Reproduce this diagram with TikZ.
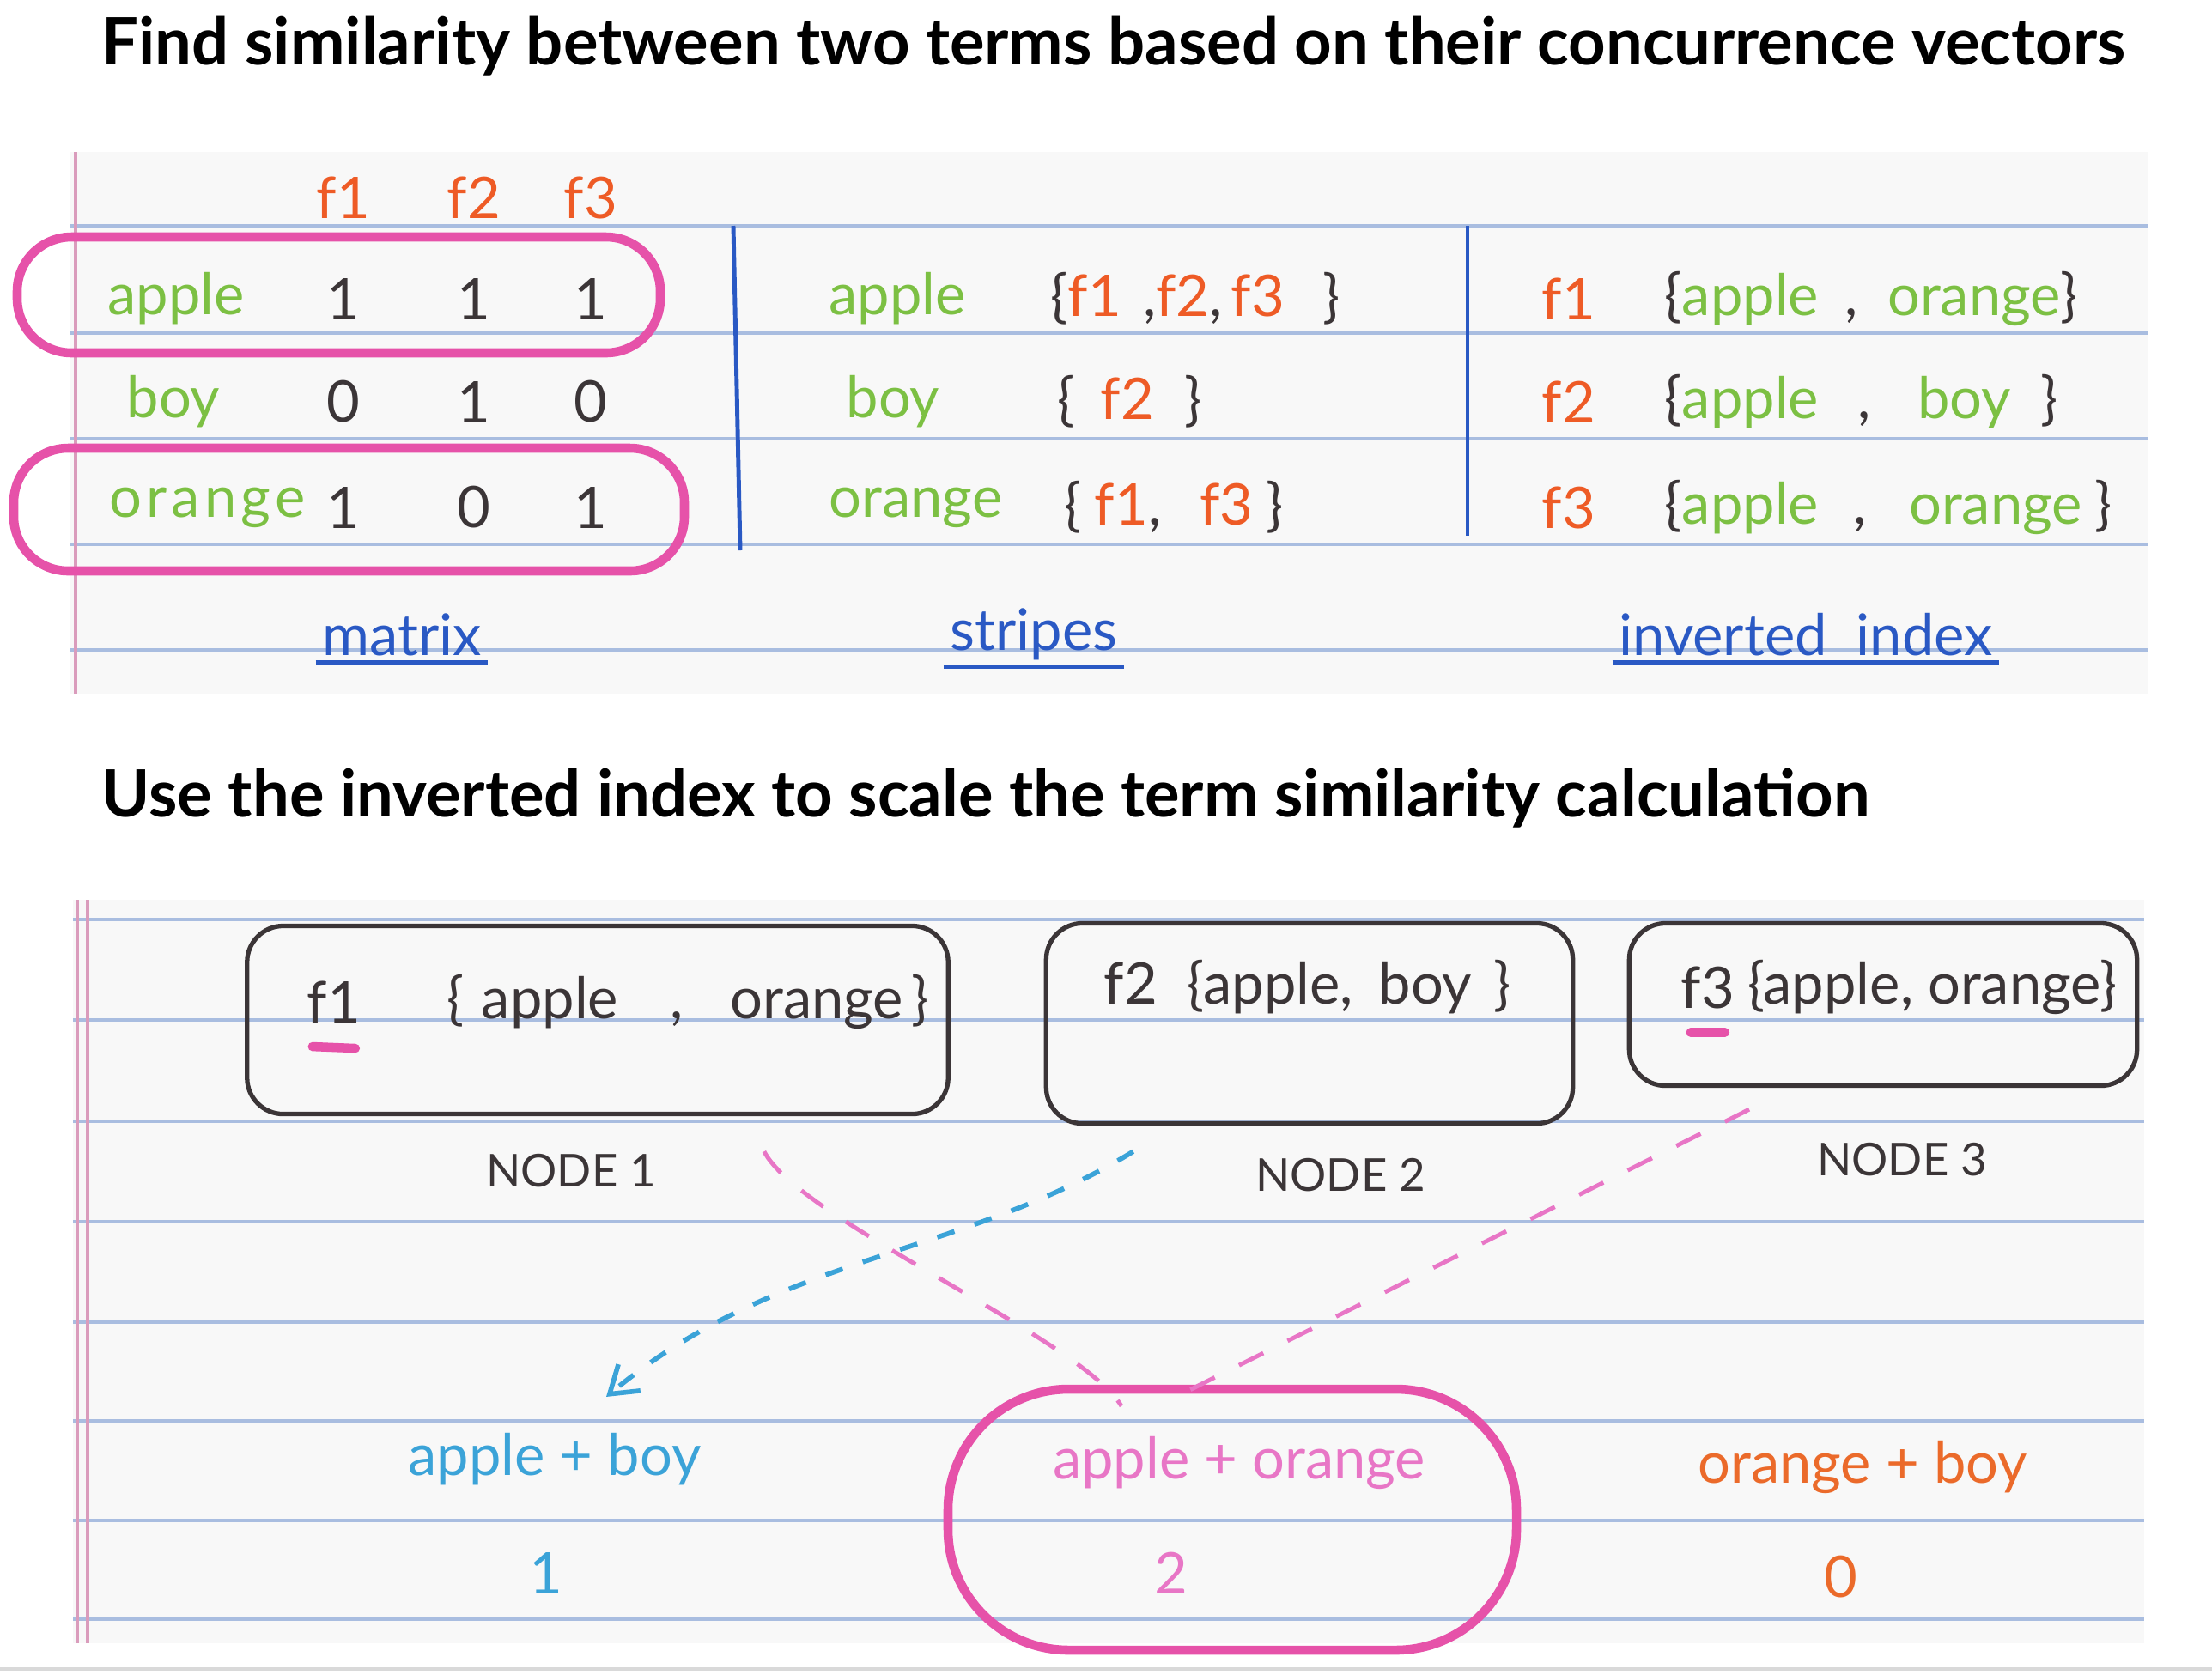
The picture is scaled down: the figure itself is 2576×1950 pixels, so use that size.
\documentclass[tikz,border=0pt]{standalone}
\usepackage{fontspec}
\setmainfont{Lato}
\usepackage{tikz}
\usetikzlibrary{arrows.meta,positioning,fit,calc}
\definecolor{ink}{HTML}{3B3537}
\definecolor{ruled}{HTML}{A9BDE0}
\definecolor{margin}{HTML}{DA9CBC}
\definecolor{paper}{HTML}{F8F8F8}
\definecolor{leaf}{HTML}{7CC043}
\definecolor{featred}{HTML}{EE5B26}
\definecolor{pen}{HTML}{2A59C4}
\definecolor{hilite}{HTML}{E652A9}
\definecolor{sky}{HTML}{3BA3D8}
\definecolor{rose}{HTML}{E876C6}
\definecolor{tangerine}{HTML}{EB6A2A}
\newcommand{\fe}[1]{\textcolor{featred}{#1}}
\newcommand{\tm}[1]{\textcolor{leaf}{#1}}
\newcommand{\gap}[1]{\hspace{#1cm}}
\tikzset{
  title/.style  ={anchor=west,inner sep=0pt,font=\fontsize{21.6}{26}\selectfont\bfseries,text=black},
  hand/.style   ={inner sep=2pt,font=\fontsize{19}{22}\selectfont,text=ink},
  term/.style   ={hand,anchor=west,text=leaf},
  featlbl/.style={hand,text=featred},
  caption/.style={hand,text=pen},
  nodebox/.style={draw=ink,line width=1.5pt,rounded corners=12pt},
  nodelbl/.style={hand,font=\fontsize{15}{18}\selectfont},
  hlring/.style ={draw=hilite,line width=3pt,rounded corners=18pt,inner sep=0pt},
  ruleline/.style={draw=ruled,line width=1.1pt},
  marginline/.style={draw=margin,line width=0.9pt},
  sepline/.style={draw=pen,line width=1.4pt},
  underline/.style={draw=pen,line width=1.3pt},
  pinkflow/.style={draw=rose,line width=1.4pt,dash pattern=on 9pt off 9pt},
  skyflow/.style={-{Straight Barb[length=3mm,width=4mm]},draw=sky,line width=1.6pt,
                  dash pattern=on 6pt off 7pt},
  penmark/.style={draw=hilite,line width=3pt,line cap=round}
}
\begin{document}
\begin{tikzpicture}[x=0.01cm,y=-0.01cm]
  \useasboundingbox[fill=white] (0,0) rectangle (2576,1950);
  \node[title] (t1) at (118,54) {Find similarity between two terms based on their concurrence vectors};
  \node[title] (t2) at (118,930) {Use the inverted index to scale the term similarity calculation};

  % top sheet
  \fill[paper] (82,177) rectangle (2502,808);
  \foreach \y in {263,388,511,634,757} \draw[ruleline] (82,\y) -- (2502,\y);
  \draw[marginline] (88,177) -- (88,808);

  % matrix
  \foreach \x [count=\i] in {400,552,688} \node[featlbl] (h\i) at (\x,230) {f\i};
  \node[term] (ra) at (118,348) {apple};
  \node[term] (rb) at (140,468) {boy};
  \node[term] (ro) at (120,591) {o\gap{0.05}r\gap{0.05}a\gap{0.05}n\gap{0.05}g\gap{0.05}e};
  \foreach \x/\v [count=\i] in {400/1,552/1,688/1} \node[hand] (va\i) at (\x,348) {\v};
  \foreach \x/\v [count=\i] in {400/0,552/1,688/0} \node[hand] (vb\i) at (\x,468) {\v};
  \foreach \x/\v [count=\i] in {400/1,552/0,688/1} \node[hand] (vo\i) at (\x,591) {\v};
  \node[hlring,fit={(20,276) (769,411)}] (hla) {};
  \node[hlring,fit={(16,522) (797,665)}] (hlo) {};
  \node[caption] (cm) at (468,739) {matrix};
  \draw[underline] (cm.south west) -- (cm.south east);
  \draw[sepline] (854,263) -- (862,641);

  % stripes
  \node[term] (sa) at (958,348) {apple};
  \node[hand,anchor=west] (sfa) at (1216,348) {\{\fe{f1}\gap{0.25},\fe{f2},\gap{0.1}\fe{f3}\gap{0.45}\}};
  \node[term] (sb) at (978,468) {boy};
  \node[hand,anchor=west] (sfb) at (1224,468) {\{\gap{0.3}\fe{f2}\gap{0.35}\}};
  \node[term] (so) at (958,591) {orange};
  \node[hand,anchor=west] (sfo) at (1232,591) {\{\gap{0.15}\fe{f1},\gap{0.45}\fe{f3}\gap{0.15}\}};
  \node[caption] (cs) at (1204,739) {stripes};
  \draw[underline] (cs.south west) -- (cs.south east);
  \draw[sepline] (1709,263) -- (1709,624);

  % inverted index
  \node[featlbl,anchor=west] (ia) at (1788,348) {f1};
  \node[hand,anchor=west] (iaset) at (1931,348) {\{\tm{apple}\gap{0.3},\gap{0.35}\tm{orange}\}};
  \node[featlbl,anchor=west] (ib) at (1788,468) {f2};
  \node[hand,anchor=west] (ibset) at (1931,468) {\{\tm{apple}\gap{0.45},\gap{0.55}\tm{boy}\gap{0.35}\}};
  \node[featlbl,anchor=west] (ic) at (1788,591) {f3};
  \node[hand,anchor=west] (icset) at (1931,591) {\{\tm{apple}\gap{0.4},\gap{0.5}\tm{orange}\gap{0.15}\}};
  \node[caption] (ci) at (2103,739) {inverted\ \ index};
  \draw[underline] (ci.south west) -- (ci.south east);

  % bottom sheet
  \fill[paper] (85,1048) rectangle (2497,1914);
  \foreach \y in {1071,1188,1306,1423,1540,1655,1771,1886} \draw[ruleline] (85,\y) -- (2497,\y);
  \draw[marginline] (90,1048) -- (90,1914);
  \draw[marginline] (102,1048) -- (102,1914);

  \node[nodebox,minimum width=8.16cm,minimum height=2.19cm] (box1) at (696,1188) {};
  \node[nodebox,minimum width=6.13cm,minimum height=2.33cm] (box2) at (1525,1192) {};
  \node[nodebox,minimum width=5.91cm,minimum height=1.89cm] (box3) at (2193,1170) {};
  \node[hand,anchor=west] (b1f) at (350,1167) {f1};
  \node[hand,anchor=west] (b1s) at (513,1167) {\{\gap{0.2}apple\gap{0.6},\gap{0.55}orange\gap{0.1}\}};
  \node[hand,anchor=west] (b2t) at (1278,1150) {f2\gap{0.35}\{apple,\gap{0.3}boy\gap{0.25}\}};
  \node[hand,anchor=west] (b3f) at (1950,1150) {f3};
  \node[hand,right=0pt of b3f] (b3s) {\{apple, orange\}};
  \draw[penmark] ($(b1f.south)+(-25,20)$) -- ($(b1f.south)+(25,22)$);
  \draw[penmark] ($(b3f.south)+(-20,20)$) -- ($(b3f.south)+(20,20)$);
  \node[nodelbl] (n1) at (665,1364) {NODE 1};
  \node[nodelbl] (n2) at (1561,1369) {NODE 2};
  \node[nodelbl] (n3) at (2215,1351) {NODE 3};

  \node[hand,text=sky] (ab) at (646,1700) {apple + boy};
  \node[hand,text=sky] (abn) at (636,1832) {1};
  \node[hand,text=rose] (ao) at (1443,1704) {apple + orange};
  \node[hand,text=rose] (aon) at (1364,1832) {2};
  \node[hand,text=tangerine] (ob) at (2169,1709) {orange + boy};
  \node[hand,text=tangerine] (obn) at (2144,1837) {0};
  \node[hlring,rounded corners=40pt,fit={(1104,1618) (1766,1922)}] (hlb) {};

  \coordinate (c1) at ($(box1.south east)+(-217,41)$);
  \coordinate (c2) at ($(box2.south west)+(104,30)$);
  \coordinate (c3) at ($(box3.south)+(-156,25)$);
  \draw[pinkflow] (c1) .. controls (930,1420) and (1260,1560) .. ($(hlb.north)+(-129,25)$);
  \draw[pinkflow] (c3) -- ($(hlb.north)+(-55,9)$);
  \draw[skyflow] (c2) .. controls (1120,1464) and (906,1460) .. ($(ab.north)+(60,-35)$);
  \draw[gray!30,line width=1pt] (0,1944) -- (2576,1944);
\end{tikzpicture}
\end{document}
